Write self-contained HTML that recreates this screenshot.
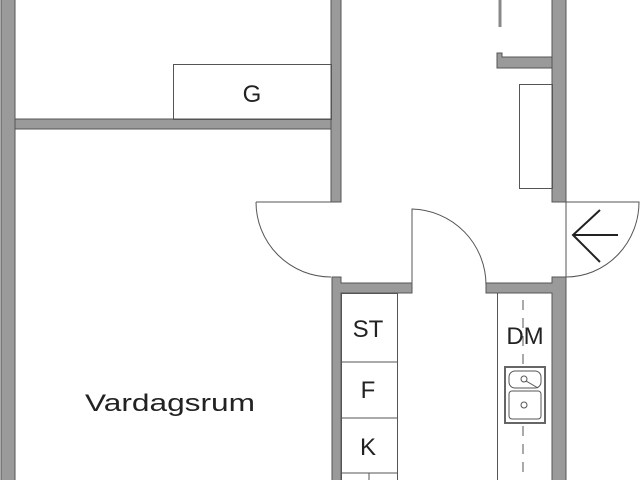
<!DOCTYPE html>
<html><head><style>body{margin:0;background:#fff}svg{display:block}</style></head><body>
<svg width="640" height="480" viewBox="0 0 640 480" xmlns="http://www.w3.org/2000/svg" font-family="Liberation Sans, sans-serif">
<g fill="#9a9a9a" stroke="#555" stroke-width="1">
<rect x="1" y="-2" width="14" height="490"/>
<rect x="15" y="119" width="317" height="10"/>
<rect x="331" y="-2" width="10" height="204"/>
<rect x="552" y="-2" width="14" height="204"/>
<path d="M497 53 H502 V57 H552 V68 H497 Z"/>
<path d="M332 277 H341 V283 H412 V293 H341 V490 H332 Z"/>
<path d="M486 283 H552 V277 H566 V490 H552 V293 H486 Z"/>
</g>
<g fill="none" stroke="#555" stroke-width="1">
<rect x="173.5" y="64.5" width="158" height="55"/>
<rect x="519.5" y="84.5" width="33" height="104"/>
<line x1="500" y1="0" x2="500" y2="27" stroke-width="3" stroke="#888"/>
<path d="M256 202 H331 M256 202 A75 75 0 0 0 331 277"/>
<path d="M412 285 V209 A76 76 0 0 1 486 285"/>
<path d="M566 202 V277 M566 202 H639 A73 75 0 0 1 566 277"/>
<rect x="341.5" y="293.5" width="56" height="200"/>
<line x1="341" y1="362" x2="397" y2="362"/>
<line x1="341" y1="418" x2="397" y2="418"/>
<line x1="341" y1="473" x2="397" y2="473"/>
<line x1="369" y1="473" x2="369" y2="480"/>
<line x1="497.5" y1="293" x2="497.5" y2="480"/>
<line x1="523" y1="300" x2="523" y2="480" stroke-dasharray="10,8"/>
<rect x="505" y="367" width="40" height="56" fill="#fff" stroke="#666" stroke-width="2"/>
<rect x="509" y="371" width="32" height="17" rx="6"/>
<rect x="509" y="391" width="32" height="28" rx="3"/>
<circle cx="524" cy="379" r="3"/><circle cx="524" cy="405" r="3"/>
<line x1="526" y1="381" x2="538" y2="388"/>
</g>
<g stroke="#222" stroke-width="2" fill="none"><path d="M573 235 H618 M600 210 L573 235 L600 262"/></g>
<g fill="#222" font-size="24" text-anchor="middle">
<text x="252" y="102">G</text>
<text x="170" y="411" textLength="170" lengthAdjust="spacingAndGlyphs">Vardagsrum</text>
<text x="368" y="337">ST</text>
<text x="368" y="398">F</text>
<text x="368" y="455">K</text>
<text x="525" y="344">DM</text>
</g>
</svg>
</body></html>
